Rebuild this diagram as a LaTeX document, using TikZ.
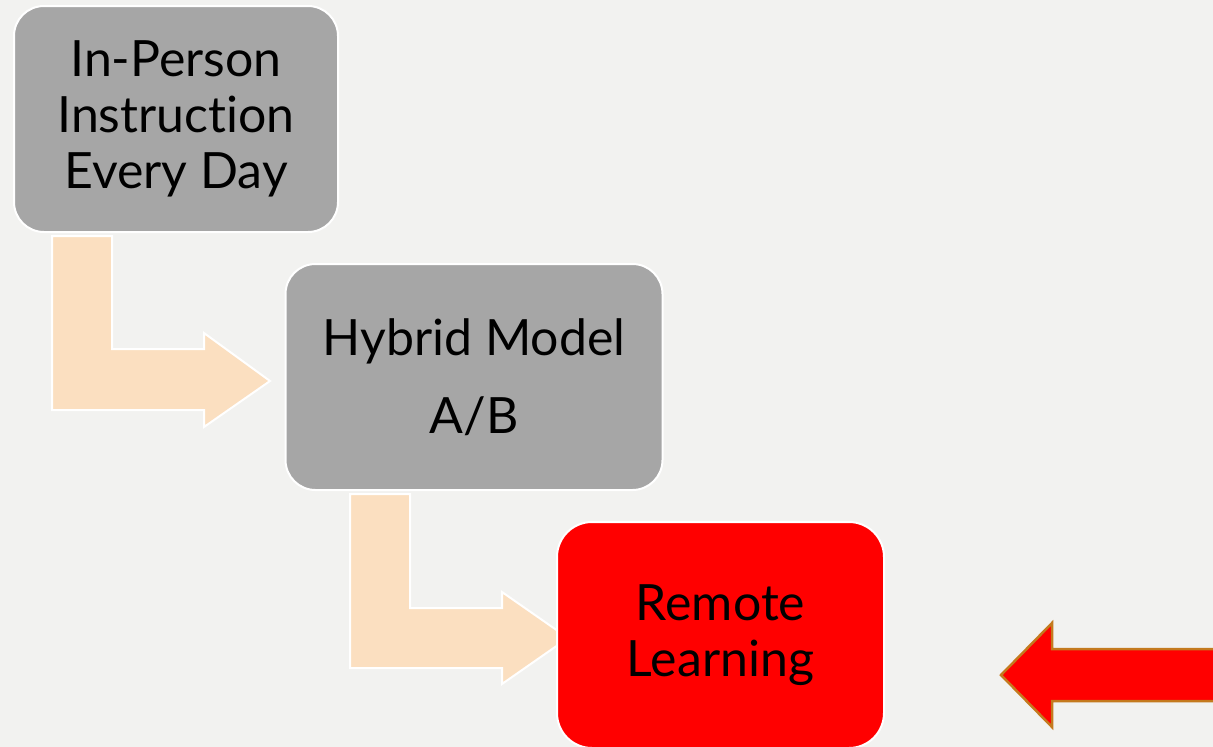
\documentclass[tikz,border=0pt]{standalone}
\usepackage{fontspec}
\setmainfont{Lato}[Ligatures={NoCommon}]
\definecolor{slidebg}{HTML}{F2F2F0}
\definecolor{boxgray}{HTML}{A6A6A6}
\definecolor{peach}{HTML}{FBDFC0}
\definecolor{arrowedge}{HTML}{C47A1E}
\begin{document}
\begin{tikzpicture}[x=1pt,y=-1pt]
        \tikzstyle{stage}=[rounded corners=30pt,draw=white,line width=2pt,fill=boxgray,align=center,
                minimum height=226pt,font=\fontsize{50}{56}\selectfont]
        \tikzstyle{bent}=[fill=peach,draw=white,line width=2pt]
        \fill[slidebg] (0,0) rectangle (1213,747);
        \clip (0,0) rectangle (1213,747);
        % bent arrows between the stages
        \path[bent] (52,236) -- (112,236) -- (112,349) -- (204,349) -- (204,333) -- (270,381)
                -- (204,427) -- (204,410) -- (52,410) -- cycle;
        \path[bent] (350,494) -- (410,494) -- (410,608) -- (502,608) -- (502,592) -- (568,638)
                -- (502,684) -- (502,668) -- (350,668) -- cycle;
        % stages
        \node [stage,minimum width=324pt] (inperson) at (176,119) {In-Person\\Instruction\\Every Day};
        \node [stage,minimum width=377pt] (hybrid) at (474,377) {Hybrid Model\\[22pt]A/B};
        \node [stage,minimum width=327pt,fill=red,rounded corners=35pt] (remote) at (720.5,635) {Remote\\Learning};
        % pointer to the current stage
        \path[fill=red,draw=arrowedge,line width=2.5pt] (1225,649) -- (1052,649) -- (1052,623) -- (1001,675)
                -- (1052,727) -- (1052,701) -- (1225,701) -- cycle;
\end{tikzpicture}
\end{document}
